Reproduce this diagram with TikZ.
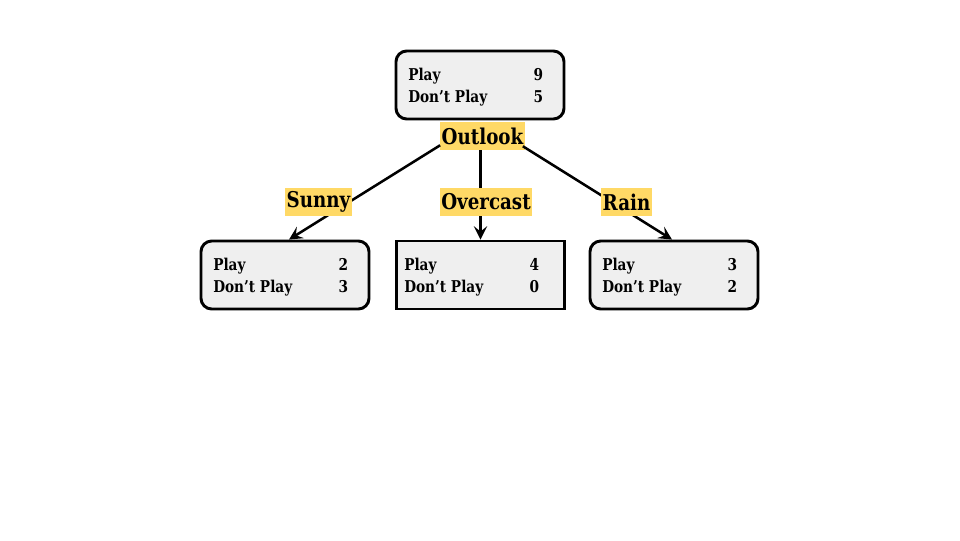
\documentclass[tikz,border=0pt]{standalone}
\usepackage{fontspec}
\setmainfont{DejaVu Serif}[FakeStretch=0.84]
\usetikzlibrary{arrows.meta}
\definecolor{boxfill}{HTML}{EFEFEF}
\definecolor{labfill}{HTML}{FFD966}
\tikzset{
  countbox/.style={draw=black, line width=2.2pt, fill=boxfill, minimum width=126pt, minimum height=51pt, inner sep=0pt},
  roundbox/.style={countbox, rounded corners=8pt},
  squarebox/.style={countbox},
  counts/.style={anchor=west, inner sep=0pt, font=\bfseries\fontsize{12.2pt}{16.5pt}\selectfont},
  lab/.style={fill=labfill, inner xsep=1pt, inner ysep=0pt, minimum height=21pt, font=\bfseries\fontsize{16.3pt}{18pt}\selectfont},
  arr/.style={line width=1.9pt, -{Stealth[length=10pt,width=10pt,inset=4pt]}}
}
\newcommand{\cnt}[2]{\begin{tabular}{@{}p{82pt}r@{}}Play & #1\\ Don't Play & #2\end{tabular}}
\begin{document}
\begin{tikzpicture}[x=0.75pt,y=-0.75pt]
\useasboundingbox (0,0) rectangle (960,540);
% boxes
\node[roundbox] (root) at (480,85) {};
\node[counts] (roottxt) at (408,87) {\cnt{9}{5}};
\node[roundbox] (sunnybox) at (285,275) {};
\node[counts] (sunnytxt) at (213,277) {\cnt{2}{3}};
\node[squarebox] (overbox) at (480.5,275) {};
\node[counts] (overtxt) at (404,277) {\cnt{4}{0}};
\node[roundbox] (rainbox) at (674,275) {};
\node[counts] (raintxt) at (602,277) {\cnt{3}{2}};
% root label
\node[lab] (outlook) at (482.5,136) {Outlook};
\coordinate (ol) at ([yshift=3.75pt]outlook.south west);
\coordinate (or) at ([xshift=-1.5pt,yshift=3pt]outlook.south east);
\coordinate (om) at (outlook.south -| overbox.north);
% connectors
\draw[arr] (ol) -- ([xshift=3pt]sunnybox.north);
\draw[arr] (om) -- (overbox.north);
\draw[arr] (or) -- ([xshift=-1.5pt]rainbox.north);
% edge labels
\node[lab] (sunny) at (318.5,202) {Sunny};
\node[lab] (overcast) at (486,202) {Overcast};
\node[lab] (rain) at (626.5,202) {Rain};
\end{tikzpicture}
\end{document}
